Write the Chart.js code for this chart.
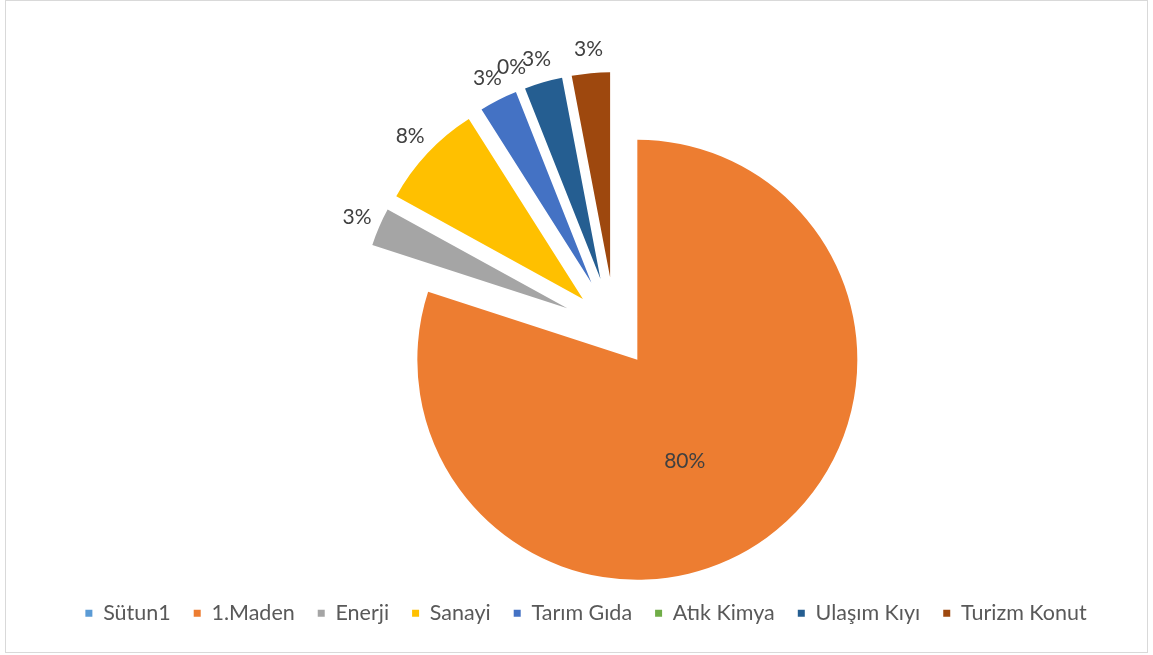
<!DOCTYPE html>
<html>
<head>
<meta charset="utf-8">
<script src="https://cdn.jsdelivr.net/npm/chart.js@4.4.1/dist/chart.umd.min.js"></script>
<style>
  html, body { margin: 0; padding: 0; background: #ffffff; }
  #wrap { position: relative; width: 1153px; height: 655px; }
  #frame { position: absolute; left: 5px; top: 0; width: 1141px; height: 651px; border: 1px solid #D9D9D9; pointer-events: none; }
  canvas { position: absolute; left: 0; top: 0; }
</style>
</head>
<body>
<div id="wrap">
  <canvas id="pie" width="1153" height="655"></canvas>
  <div id="frame"></div>
</div>
<script>
// Sector shares (percent); Sütun1 is an empty column.
const categories = ['Sütun1', '1.Maden', 'Enerji', 'Sanayi', 'Tarım Gıda', 'Atık Kimya', 'Ulaşım Kıyı', 'Turizm Konut'];
const shares = [null, 80, 3, 8, 3, 0, 3, 3];

// Office palette, one colour per category
const sliceColors = ['#5B9BD5', '#ED7D31', '#A5A5A5', '#FFC000', '#4472C4', '#70AD47', '#255E91', '#9E480E'];

// Reserve extra room on the left of the plot area so the pie sits right of the legend centre
const plotGutter = {
  id: 'plotGutter',
  afterLayout(chart, args, opts) {
    const g = opts.left || 0;
    chart.chartArea.left += g;
    chart.chartArea.width -= g;
  }
};

// Pull each slice out along its bisector and give it its own radius
// (keeps the slice's full angular width, unlike the built-in offset)
const explodeSlices = {
  id: 'explodeSlices',
  afterDatasetUpdate(chart, args, opts) {
    args.meta.data.forEach((arc, i) => {
      const d = opts.distance[i] || 0;
      const mid = (arc.startAngle + arc.endAngle) / 2;
      arc.x += Math.cos(mid) * d;
      arc.y += Math.sin(mid) * d;
      if (opts.radii[i] != null) arc.outerRadius = opts.radii[i];
    });
  }
};

// Percentage labels: inside the dominant slice, outside the others
const sliceLabels = {
  id: 'sliceLabels',
  afterDatasetsDraw(chart, args, opts) {
    const ctx = chart.ctx;
    const ds = chart.data.datasets[0];
    const meta = chart.getDatasetMeta(0);
    const total = ds.data.reduce((s, v) => s + (v || 0), 0);
    ctx.save();
    ctx.font = opts.font;
    ctx.fillStyle = opts.color;
    ctx.textAlign = 'center';
    ctx.textBaseline = 'middle';
    meta.data.forEach((arc, i) => {
      const v = ds.data[i];
      if (v == null) return;
      let mid = (arc.startAngle + arc.endAngle) / 2;
      const r = arc.outerRadius;
      const share = v / total;
      let dist;
      if (share > 0.5) {
        dist = r * opts.inside;
        mid += opts.insideTurn * Math.PI / 180;
      } else {
        dist = r + opts.outside;
      }
      ctx.fillText(Math.round(share * 100) + '%', arc.x + Math.cos(mid) * dist, arc.y + Math.sin(mid) * dist);
    });
    ctx.restore();
  }
};

new Chart(document.getElementById('pie'), {
  type: 'pie',
  data: {
    labels: categories,
    datasets: [{
      data: shares,
      backgroundColor: sliceColors,
      borderWidth: 0,
      radius: 207
    }]
  },
  options: {
    responsive: false,
    animation: false,
    events: [],
    layout: { padding: { left: 19, right: 0, top: 78.5, bottom: 21 } },
    plugins: {
      legend: {
        position: 'bottom',
        labels: {
          boxWidth: 7,
          boxHeight: 7,
          padding: 23,
          color: '#595959',
          font: { family: 'Lato', size: 21.5 }
        }
      },
      tooltip: { enabled: false },
      plotGutter: { left: 58 },
      explodeSlices: {
        distance: [0, 38, 52, 44, 52, 52, 52, 52],
        radii: [207, 220, 205, 213, 205, 205, 205, 205]
      },
      sliceLabels: { font: '21px Lato', color: '#404040', inside: 0.51, insideTurn: 11, outside: 24 }
    }
  },
  plugins: [plotGutter, explodeSlices, sliceLabels]
});
</script>
</body>
</html>
